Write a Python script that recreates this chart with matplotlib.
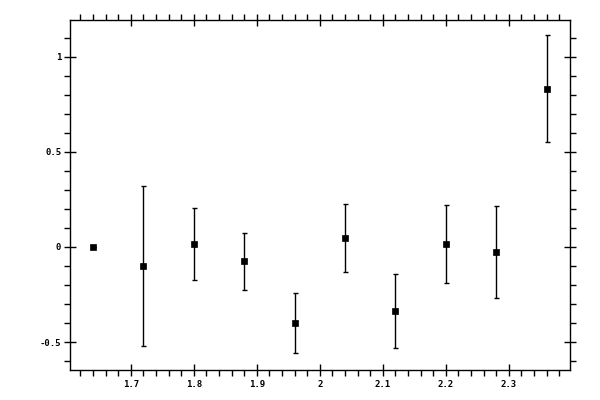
import numpy as np
import matplotlib
matplotlib.use("Agg")
import matplotlib.pyplot as plt
from matplotlib.ticker import MultipleLocator, FormatStrFormatter

# values
x = [1.64, 1.72, 1.80, 1.88, 1.96, 2.04, 2.12, 2.20, 2.28, 2.36]
y = [0.0, -0.10, 0.016, -0.074, -0.40, 0.047, -0.337, 0.016, -0.026, 0.832]
yerr = [0.0, 0.42, 0.19, 0.15, 0.157, 0.177, 0.195, 0.204, 0.24, 0.28]

fig = plt.figure(figsize=(6, 4), dpi=100)
ax = fig.add_axes([0.116, 0.075, 0.834, 0.876])

ax.errorbar(x, y, yerr=yerr, fmt="none", ecolor="black",
            elinewidth=1, capsize=1.8, capthick=1)
ax.plot(x, y, "s", color="black", ms=5, mec="black", mew=0.5, zorder=3)

ax.set_xlim(1.603, 2.397)
ax.set_ylim(-0.646, 1.194)

ax.xaxis.set_major_locator(MultipleLocator(0.1))
ax.xaxis.set_minor_locator(MultipleLocator(0.02))
ax.yaxis.set_major_locator(MultipleLocator(0.5))
ax.yaxis.set_minor_locator(MultipleLocator(0.1))
ax.xaxis.set_major_formatter(FormatStrFormatter("%g"))
ax.yaxis.set_major_formatter(FormatStrFormatter("%g"))

ax.tick_params(which="both", top=True, right=True, width=1, colors="black")
ax.tick_params(which="major", direction="inout", length=8, labelsize=6.5)
ax.tick_params(axis="x", which="major", pad=3)
ax.tick_params(axis="y", which="major", pad=2)
ax.tick_params(which="minor", direction="out", length=4)
for lab in ax.get_xticklabels() + ax.get_yticklabels():
    lab.set_family("DejaVu Sans Mono")
    lab.set_fontweight("bold")
for s in ax.spines.values():
    s.set_linewidth(1)

fig.savefig("out.png", dpi=100)
